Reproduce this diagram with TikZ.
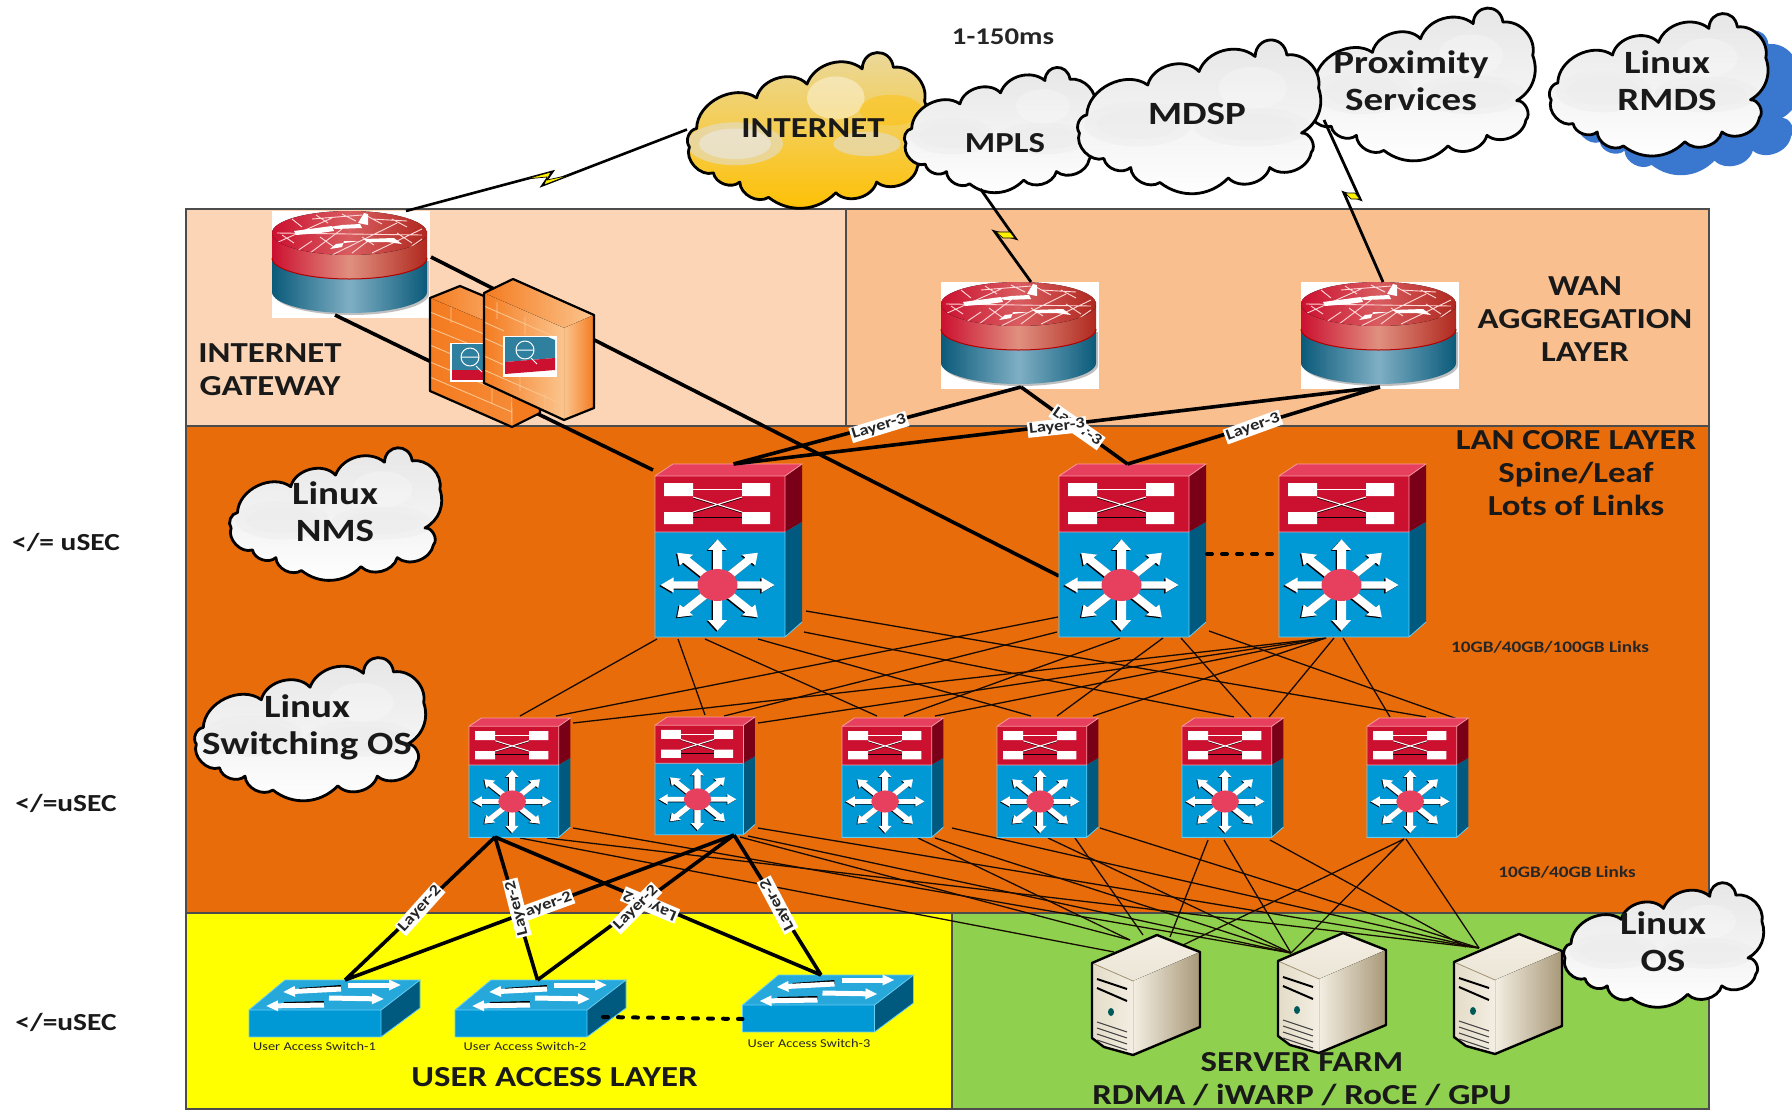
\documentclass[tikz,border=0pt]{standalone}
\usepackage{fontspec}
\setmainfont[FakeStretch=1.2]{Carlito}
\usetikzlibrary{arrows.meta,calc}
\definecolor{peachL}{HTML}{FBD5B5}
\definecolor{peachR}{HTML}{F9BF8F}
\definecolor{lanO}{HTML}{E96C0B}
\definecolor{usrY}{HTML}{FFFF00}
\definecolor{srvG}{HTML}{8FD14F}
\definecolor{swTop}{HTML}{E6405E}
\definecolor{swRed}{HTML}{CC1030}
\definecolor{swRedS}{HTML}{7A0018}
\definecolor{swBlue}{HTML}{0098D5}
\definecolor{swBlueS}{HTML}{005A80}
\definecolor{cylMid}{HTML}{7FAFC4}
\definecolor{cylDark}{HTML}{0A5A7A}
\definecolor{redMid}{HTML}{E09080}
\definecolor{redDark}{HTML}{B0281E}
\definecolor{shadowB}{HTML}{3A78CF}
\definecolor{goldA}{HTML}{EAD9A0}
\definecolor{goldB}{HTML}{F3D070}
\definecolor{goldC}{HTML}{FFC000}
\definecolor{srvL}{HTML}{F3EEE2}
\definecolor{srvM}{HTML}{E4DCC8}
\definecolor{srvD}{HTML}{A89878}
\definecolor{fwD}{HTML}{F47B20}
\definecolor{fwL}{HTML}{FBC58E}
\definecolor{fwB}{HTML}{2F7F9F}
\tikzset{
  frame/.style={inner sep=0pt,outer sep=0pt,rectangle},
  panel/.style={draw=black!70,line width=1.2pt},
  thinlink/.style={draw=black!90!lanO,line width=1.3pt},
  thicklink/.style={draw=black,line width=3.6pt},
  lbl/.style={fill=white,inner sep=1.5pt,font=\fontsize{15.5}{15.5}\selectfont\bfseries,text=black!85},
  ttl/.style={align=center,font=\fontsize{29}{33}\selectfont\bfseries,text=black!90},
  cloudtxt/.style={align=center,font=\fontsize{29}{37}\selectfont\bfseries,text=black!90},
  cloudbig/.style={align=center,font=\fontsize{32.5}{37}\selectfont\bfseries,text=black!90},
  small/.style={font=\fontsize{12}{12}\selectfont,text=black!85},
  links/.style={font=\fontsize{16}{16}\selectfont\bfseries,text=black!85},
  usec/.style={font=\fontsize{24.5}{24.5}\selectfont\bfseries,text=black!90},
}
\newcommand\devframe[5]{\node[frame,minimum width={(#4-#2)*1pt},minimum height={(#5-#3)*1pt}] (#1) at ({(#2+#4)/2},{(#3+#5)/2}) {};}
\newcommand\lk[7][thinlink]{\draw[#1] ([xshift=#3,yshift=#4]#2) -- ([xshift=#6,yshift=#7]#5);}
% cloud outline, in unit coordinates
\def\cloudpath{(.04,.50) to[bend left=62] (.29,.30) to[bend left=62] (.50,.21) to[bend left=55] (.73,.11)
 to[bend left=85,looseness=1.7] (.86,.10) to[bend left=55] (.99,.32) to[bend left=40] (.92,.62)
 to[bend left=70] (.96,.75) to[bend left=60] (.79,.85) to[bend left=60] (.62,.92)
 to[bend left=42] (.34,.95) to[bend left=60] (.22,.85) to[bend left=60] (.11,.79)
 to[bend left=65] (.01,.62) to[bend left=60] (.04,.50) -- cycle}
\newcommand\graycloud[5]{\devframe{#1}{#2}{#3}{#4}{#5}
 \pgfmathsetmacro\cw{#4-#2}\pgfmathsetmacro\ch{#5-#3}
 \begin{scope}[shift={(#2,#3)},x=\cw pt,y=-\ch pt]
 \fill[top color=black!10,bottom color=white] \cloudpath;
 \begin{scope}\clip \cloudpath;
  \fill[black!7,opacity=.5] (.25,.56) ellipse [x radius=.22,y radius=.15];
  \fill[black!7,opacity=.5] (.25,.56) ellipse [x radius=.17,y radius=.1];
  \fill[black!7,opacity=.5] (.72,.58) ellipse [x radius=.24,y radius=.13];
  \fill[black!7,opacity=.5] (.72,.58) ellipse [x radius=.18,y radius=.09];
  \fill[white,opacity=.25] (.72,.32) ellipse [x radius=.14,y radius=.14];
 \end{scope}
 \draw[black,line width=2.8pt,line join=round] \cloudpath;
 \end{scope}}
\newcommand\goldcloud[5]{\devframe{#1}{#2}{#3}{#4}{#5}
 \pgfmathsetmacro\cw{#4-#2}\pgfmathsetmacro\ch{#5-#3}
 \begin{scope}[shift={(#2,#3)},x=\cw pt,y=-\ch pt]
 \fill[top color=goldA,middle color=goldB,bottom color=goldC] \cloudpath;
 \begin{scope}\clip \cloudpath;
  \fill[black!12,opacity=.55] (.2,.6) ellipse [x radius=.2,y radius=.14];
  \fill[black!8,opacity=.55] (.2,.6) ellipse [x radius=.15,y radius=.1];
  \fill[black!12,opacity=.55] (.75,.6) ellipse [x radius=.14,y radius=.08];
  \fill[white,opacity=.4] (.62,.3) ellipse [x radius=.12,y radius=.14];
  \fill[goldC,opacity=.45] (.85,.38) ellipse [x radius=.13,y radius=.1];
 \end{scope}
 \draw[black,line width=2.8pt,line join=round] \cloudpath;
 \end{scope}}
% firewall router
\newcommand\routerpic[3]{\devframe{#1}{#2}{#3}{#2+158}{#3+107}
 \begin{scope}[shift={(#2,#3)}]
 \fill[white] (0,0) rectangle (158,107);
 \fill[black!25] (2,50) -- (2,83) arc[start angle=180,end angle=360,x radius=77.5pt,y radius=21pt] -- (157,50) -- cycle;
 \path[left color=cylDark,right color=cylDark,middle color=cylMid] (0,47) -- (0,81) arc[start angle=180,end angle=360,x radius=77.5pt,y radius=21pt] -- (155,47) -- cycle;
 \path[left color=swRed,right color=redDark,middle color=redMid] (0,20) -- (0,47) arc[start angle=180,end angle=360,x radius=77.5pt,y radius=21pt] -- (155,20) -- cycle;
 \draw[red!70!black,line width=1pt] (0,47) arc[start angle=180,end angle=360,x radius=77.5pt,y radius=21pt];
 \begin{scope}
 \clip (77.5,22) ellipse [x radius=77.5pt,y radius=22pt];
 \fill[left color=swRed,right color=redDark,middle color=redMid!60!swRed] (0,0) rectangle (155,44);
 \draw[white!85!red,line width=.9pt]
  (4,32) -- (60,7) (38,42) -- (70,18) (60,44) -- (125,12) (100,42) -- (150,18)
  (22,42) -- (40,30) (80,42) -- (96,30) (130,42) -- (150,28) (40,8) -- (90,4) (100,8) -- (135,10)
  (20,8) -- (30,16) (44,4) -- (56,12) (70,3) -- (84,10) (95,5) -- (110,13) (120,8) -- (135,16)
  (10,24) -- (22,32) (48,26) -- (62,36) (90,26) -- (102,34) (125,22) -- (140,32) (5,22) -- (150,24);
 \fill[white] (22,20) -- (60,15) -- (62,20) -- (48,22) -- (24,24) -- cycle;
 \fill[white] (58,16) -- (64,18) -- (90,17) -- (88,13) -- (70,14) -- cycle;
 \fill[white] (86,12) -- (92,2) -- (96,3) -- (96,14) -- cycle;
 \fill[white] (88,30) -- (64,33) -- (58,38) -- (70,36) -- (72,30) -- cycle;
 \fill[white] (92,28) -- (122,27) -- (130,33) -- (115,31) -- (95,31) -- cycle;
 \end{scope}
 \end{scope}}
% stacked multilayer switch; #4 is its scale
\newcommand\starray{\foreach \a in {0,45,...,315}{
   \fill[rotate=\a] (15,-4.5) -- (44,-4.5) -- (44,-9.5) -- (57,0) -- (44,9.5) -- (44,4.5) -- (15,4.5) -- cycle;}}
\newcommand\stackpic[4]{\devframe{#1}{#2}{#3}{#2+147*#4}{#3+173*#4}
 \begin{scope}[shift={(#2,#3)},scale=#4]
 \fill[swTop] (0,12) -- (18,0) -- (147,0) -- (130,12) -- cycle;
 \fill[swRedS] (130,12) -- (147,0) -- (147,58) -- (130,68) -- cycle;
 \fill[swBlueS] (130,68) -- (147,58) -- (147,158) -- (130,173) -- cycle;
 \fill[swRed] (0,12) rectangle (130,68);
 \fill[swBlue] (0,68) rectangle (130,173);
 \draw[pink!70!swTop,line width=.8pt] (0,68) -- (0,12) -- (18,0) -- (147,0) -- (130,12) -- (0,12) (130,12) -- (130,68) (0,68) -- (130,68);
 \draw[cyan!60,line width=.8pt] (0,68) -- (0,173) -- (130,173) -- (147,158) (130,173) -- (130,68);
 % crossbar icon
 \fill[white] (9,19) rectangle (38,32) (87,19) rectangle (115,32) (9,48) rectangle (38,60) (87,48) rectangle (115,60);
 \draw[white,line width=.9pt] (38,25) -- (87,25);
 \draw[black,line width=.9pt] (38,53) -- (87,53);
 \draw[black,line width=.7pt] (38,34) -- (87,49) (38,49) -- (87,34);
 \draw[white,line width=1pt] (38,33) -- (87,48) (38,48) -- (87,33);
 % star icon
 \begin{scope}[shift={(62.5,121)},yscale=.8]
  \begin{scope}[xshift=-1.3pt,yshift=-1.3pt,black]\starray\end{scope}
  \begin{scope}[white]\starray\end{scope}
 \end{scope}
 \fill[swTop] (62.5,121) ellipse [x radius=20pt,y radius=16pt];
 \end{scope}}
% access switch
\newcommand\accesspic[3]{\devframe{#1}{#2}{#3}{#2+171}{#3+57}
 \begin{scope}[shift={(#2,#3)}]
 \fill[swBlue!85!white] (0,30) -- (36,0) -- (171,0) -- (132,30) -- cycle;
 \fill[swBlueS] (132,30) -- (171,0) -- (171,28) -- (132,57) -- cycle;
 \fill[swBlue] (0,30) rectangle (132,57);
 \draw[cyan!60,line width=.8pt] (0,57) -- (0,30) -- (36,0) -- (171,0) -- (132,30) -- (0,30) (132,30) -- (132,57) -- (0,57) (132,57) -- (171,28) -- (171,0);
 \draw[black,line width=4pt] (92,7) -- (50,10);
 \draw[black,line width=4pt] (75,23) -- (35,24);
 \draw[white,line width=5pt,-{Triangle[width=10pt,length=12pt]}] (92,9) -- (34,12);
 \draw[white,line width=5pt,-{Triangle[width=10pt,length=12pt]}] (99,5) -- (152,5);
 \draw[white,line width=5pt,-{Triangle[width=10pt,length=12pt]}] (75,25) -- (17,26);
 \draw[white,line width=5pt,-{Triangle[width=10pt,length=12pt]}] (80,18) -- (135,19);
 \end{scope}}
% server
\newcommand\serverpic[3]{\devframe{#1}{#2}{#3}{#2+108}{#3+120}
 \begin{scope}[shift={(#2,#3)}]
 \fill[top color=srvL,bottom color=srvL!90!srvD] (0,28) -- (65,0) -- (108,17) -- (41,46) -- cycle;
 \fill[left color=srvL,right color=srvD] (41,46) -- (108,17) -- (108,92) -- (41,120) -- cycle;
 \fill[left color=srvM,right color=srvL] (0,28) -- (41,46) -- (41,120) -- (12,112) -- (0,103) -- cycle;
 \draw[srvD,line width=.8pt] (0,28) -- (41,46);
 \draw[black,line width=2.4pt,line join=round] (0,28) -- (65,0) -- (108,17) -- (108,92) -- (41,120) -- (12,112) -- (0,103) -- cycle;
 \draw[black,line width=2pt] (5,44) -- (35,54);
 \draw[black,line width=2pt] (5,53) -- (35,66);
 \fill[teal!70!black] (19,77) ellipse [x radius=3pt,y radius=4pt];
 \foreach \d in {89,95,101,107}{\draw[black!75,line width=1pt] (5,\d-2) -- (35,\d+8);}
 \end{scope}}
\begin{document}
\begin{tikzpicture}[x=1pt,y=-1pt]
\useasboundingbox (0,0) rectangle (1792,1109);
\fill[white] (0,0) rectangle (1792,1109);
% panels
\path[panel,fill=peachL] (186,209) rectangle (846,426);
\path[panel,fill=peachR] (846,209) rectangle (1709,426);
\path[panel,fill=lanO] (186,426) rectangle (1709,913);
\path[panel,fill=usrY] (186,913) -- (186,1109) -- (952,1109) -- (952,913) -- cycle;
\path[panel,fill=srvG] (952,913) -- (952,1109) -- (1709,1109) -- (1709,913) -- cycle;
% device frames used by connectors
\devframe{c1}{655}{464}{802}{637}
\devframe{c2}{1059}{464}{1206}{637}
\devframe{c3}{1279}{464}{1426}{637}
\devframe{a1}{469}{718}{572}{837}
\devframe{a2}{655}{717}{755}{835}
\devframe{a3}{842}{718}{943}{837}
\devframe{a4}{997}{718}{1098}{837}
\devframe{a5}{1182}{718}{1283}{839}
\devframe{a6}{1367}{718}{1468}{837}
\devframe{sv1}{1092}{935}{1200}{1055}
\devframe{sv2}{1278}{933}{1384}{1052}
\devframe{sv3}{1454}{933}{1561}{1054}
% core to aggregation
\lk{c1.south}{-71.5}{-2}{a1.north}{-.5}{2}
\lk{c1.south}{-50.5}{-2}{a2.north}{0}{2}
\lk{c1.south}{-23.5}{-2}{a3.north}{-15.5}{2}
\lk{c1.south}{29.5}{-2}{a4.north}{-16.5}{2}
\lk{c1.south}{75.5}{5}{a5.north}{1.5}{1}
\lk{c1.south}{77.5}{26}{a6.north}{8.5}{1}
\lk{c2.south}{-74.5}{20}{a1.north}{35.5}{2}
\lk{c2.south}{-75.5}{5}{a2.north}{19}{1}
\lk{c2.south}{-12.5}{-1}{a3.north}{11.5}{2}
\lk{c2.south}{30.5}{-1}{a4.north}{9.5}{2}
\lk{c2.south}{48.5}{-1}{a5.north}{18.5}{1}
\lk{c2.south}{76.5}{6}{a6.north}{48.5}{-4}
\lk{c3.south}{-26.5}{-1}{a1.north}{52.5}{-5}
\lk{c3.south}{-26.5}{-1}{a2.north}{53}{-6}
\lk{c3.south}{-26.5}{-1}{a3.north}{42.5}{2}
\lk{c3.south}{-26.5}{-1}{a4.north}{45.5}{2}
\lk{c3.south}{-18.5}{-1}{a5.north}{36.5}{1}
\lk{c3.south}{-9.5}{-1}{a6.north}{-27.5}{1}
% aggregation to servers
\lk{a1.south}{-.5}{-1}{sv1.north}{-32}{-17}
\lk{a1.south}{26.5}{-1}{sv3.north}{-28.5}{-15}
\lk{a1.south}{52.5}{9}{sv2.north}{-40}{-20}
\lk{a2.south}{35}{-2}{sv1.north}{-16}{-5}
\lk{a2.south}{43}{-1}{sv2.north}{-40}{-20}
\lk{a2.south}{53}{7}{sv3.north}{-28.5}{-15}
\lk{a3.south}{25.5}{-1}{sv1.north}{-16}{-5}
\lk{a3.south}{42.5}{-1}{sv2.north}{-40}{-20}
\lk{a3.south}{59.5}{9}{sv3.north}{-28.5}{-15}
\lk{a4.south}{.5}{-1}{sv2.north}{-40}{-20}
\lk{a4.south}{27.5}{-1}{sv1.north}{-3}{0}
\lk{a4.south}{52.5}{9}{sv3.north}{-28.5}{-15}
\lk{a5.south}{-24.5}{-1}{sv1.north}{24}{-2}
\lk{a5.south}{-8.5}{-1}{sv2.north}{-40}{-20}
\lk{a5.south}{37.5}{-1}{sv3.north}{-41.5}{-14}
\lk{a6.south}{-13.5}{-2}{sv1.north}{35}{-11}
\lk{a6.south}{-13.5}{-2}{sv2.north}{-40}{-20}
\lk{a6.south}{-11.5}{-2}{sv3.north}{-28.5}{-15}
% clouds
\devframe{rmdsShadow}{1575}{30}{1800}{172}
\begin{scope}[shift={(1575,30)},x=225pt,y=-142pt]
\fill[shadowB] \cloudpath;
\end{scope}
\goldcloud{internet}{687}{52}{927}{205}
\graycloud{mpls}{904}{67}{1097}{190}
\graycloud{prox}{1306}{7}{1535}{158}
\graycloud{mdsp}{1077}{40}{1321}{190}
\graycloud{rmds}{1549}{13}{1768}{153}
\graycloud{nms}{229}{448}{442}{577}
\graycloud{swos}{194}{658}{426}{797}
\graycloud{losc}{1563}{883}{1764}{1004}
% routers
\routerpic{r1}{272}{211}
\routerpic{r2}{941}{282}
\routerpic{r3}{1301}{282}
% WAN lightning links
\draw[black,line width=2.6pt,line join=miter] ([xshift=55]r1.north) -- (552,172) -- (543,185) -- ([yshift=-1]internet.west);
\fill[yellow,draw=black,line width=.7pt] (526,179) -- (551,172) -- (547,180) -- (570,175) -- (544,185) -- (547,177) -- cycle;
\draw[black,line width=2.8pt,line join=miter] ([xshift=-20,yshift=1]mpls.south) -- (1015,238) -- (995,232) -- ([xshift=11]r2.north);
\fill[yellow,draw=black,line width=.7pt] (996,232) -- (1010,232) -- (1015,238) -- (1003,238) -- cycle;
\draw[black,line width=2.8pt,line join=miter] ([xshift=-96.5,yshift=38]prox.south) -- (1360,199) -- (1344,193) -- ([xshift=3]r3.north);
\fill[yellow,draw=black,line width=.7pt] (1345,193) -- (1355,193) -- (1360,199) -- (1351,199) -- cycle;
% thick links behind the firewalls
\coordinate (r1b) at ([xshift=-16,yshift=3]r1.south);
\draw[thicklink] ([xshift=1,yshift=7.5]r1.east) -- ([yshift=-25.5]c2.west);
\draw[thicklink] (r1b) -- ([xshift=-2,yshift=-6]c1.north west);
% firewalls
\devframe{fw1}{430}{286}{541}{427}
\devframe{fw2}{484}{279}{594}{420}
\begin{scope}[line join=round]
\fill[left color=fwD,right color=fwL] (430,298) -- (460,286) -- (541,320) -- (511,332) -- cycle;
\fill[fwD] (511,332) -- (541,320) -- (540,413) -- (512,427) -- cycle;
\fill[left color=fwD,right color=fwD!80!fwL] (430,298) -- (511,332) -- (512,427) -- (430,391) -- cycle;
\draw[fwL,line width=.9pt] (430,312) -- (484,334) (430,328) -- (484,350) (430,345) -- (484,368) (430,362) -- (512,396) (430,377) -- (512,412) (451,307) -- (451,323) (472,350) -- (472,368) (492,388) -- (492,404) (511,332) -- (512,427);
\draw[black,line width=2.2pt] (430,298) -- (460,286) -- (541,320) -- (540,413) -- (512,427) -- (430,391) -- cycle;
\fill[white] (450,343) rectangle (500,382);
\fill[fwB] (452,344) -- (500,344) -- (500,370) -- (452,370) -- cycle;
\fill[swRed] (452,370) rectangle (500,380);
\draw[white,line width=1pt] (470,357) circle (9pt);
\draw[white,line width=1pt] (461,357) -- (479,357) (476,366) -- (482,372);
\fill[left color=fwD,right color=fwL] (484,293) -- (513,279) -- (594,315) -- (564,328) -- cycle;
\fill[left color=fwL,right color=fwD] (564,328) -- (594,315) -- (594,408) -- (564,420) -- cycle;
\fill[left color=fwD,right color=fwL] (484,293) -- (564,328) -- (564,420) -- (484,383) -- cycle;
\draw[fwL,line width=.9pt] (484,306) -- (564,341) (484,322) -- (504,331) (484,338) -- (504,347) (484,356) -- (504,365) (484,370) -- (564,405) (497,302) -- (497,319) (525,317) -- (525,335) (545,393) -- (545,412) (520,375) -- (520,391) (564,328) -- (564,420);
\draw[black,line width=2.2pt] (484,293) -- (513,279) -- (594,315) -- (594,408) -- (564,420) -- (484,383) -- cycle;
\fill[white] (503,336) rectangle (557,377);
\fill[fwB] (505,337) -- (548,337) -- (555,340) -- (555,358) -- (505,362) -- cycle;
\fill[swRed] (505,362) -- (555,358) -- (555,370) -- (505,374) -- cycle;
\draw[white,line width=1pt] (525,350) circle (9pt);
\draw[white,line width=1pt] (516,350) -- (534,350) (531,358) -- (537,364);
\end{scope}
% switches
\stackpic{c1i}{655}{464}{1}
\stackpic{c2i}{1059}{464}{1}
\stackpic{c3i}{1279}{464}{1}
\stackpic{a1i}{469}{718}{.69}
\stackpic{a2i}{655}{717}{.68}
\stackpic{a3i}{842}{718}{.69}
\stackpic{a4i}{997}{718}{.69}
\stackpic{a5i}{1182}{718}{.69}
\stackpic{a6i}{1367}{718}{.69}
\accesspic{s1}{249}{980}
\accesspic{s2}{455}{980}
\accesspic{s3}{742.5}{975}
\serverpic{sv1i}{1092}{935}
\serverpic{sv2i}{1278}{933}
\serverpic{sv3i}{1454}{934}
% thick links
\coordinate (r2b) at ([xshift=1,yshift=2]r2.south);
\coordinate (r3b) at ([yshift=2]r3.south);
\coordinate (c1t) at ([xshift=5]c1.north);
\coordinate (c2t) at ([xshift=-5]c2.north);
\draw[thicklink,line join=round] (c1t) -- (r2b) (c2t) -- (r2b) (c1t) -- (r3b) (c2t) -- (r3b);
\coordinate (a1b) at ([xshift=-25.5]a1.south);
\coordinate (a2b) at ([xshift=29]a2.south);
\coordinate (s1t) at ([xshift=10.5]s1.north);
\coordinate (s2t) at ([xshift=-3]s2.north);
\coordinate (s3t) at ([xshift=-7]s3.north);
\draw[thicklink] (a1b) -- (s1t) (a1b) -- (s2t) (a1b) -- (s3t) (a2b) -- (s1t) (a2b) -- (s2t) (a2b) -- (s3t);
\draw[black,line width=4pt,dash pattern=on 5pt off 10pt,line cap=round] ([xshift=-23,yshift=-8.5]s2.east) -- ([yshift=-15.5]s3.west);
\draw[black,line width=4pt,dash pattern=on 5pt off 10pt,line cap=round] ([xshift=1,yshift=-3.5]c2.east) -- ([yshift=-3.5]c3.west);
% labels on links
\node[lbl,rotate=-35] (l3b) at (1077,427) {Layer-3};
\node[lbl,rotate=17] (l3a) at (879,427) {Layer-3};
\node[lbl,rotate=6] (l3c) at (1057,427) {Layer-3};
\node[lbl,rotate=20] (l3d) at (1253,427) {Layer-3};
\node[lbl,rotate=20] (l2c) at (545,906) {Layer-2};
\node[lbl,rotate=48] (l2a) at (420,909) {Layer-2};
\node[lbl,rotate=104] (l2b) at (517,908) {Layer-2};
\node[lbl,rotate=157] (l2e) at (650,905) {Layer-2};
\node[lbl,rotate=45] (l2d) at (636,908) {Layer-2};
\node[lbl,rotate=118] (l2f) at (777.5,905) {Layer-2};
% texts
\node[cloudtxt] (tInternet) at (813,128) {INTERNET};
\node[cloudtxt] (tMpls) at (1005,143) {MPLS};
\node[cloudbig] (tMdsp) at (1197,114) {MDSP};
\node[cloudbig] (tProx) at (1411,81) {Proximity\\Services};
\node[cloudbig] (tRmds) at (1667,81) {Linux\\RMDS};
\node[cloudbig] (tNms) at (335,512) {Linux\\NMS};
\node[cloudbig] (tSwos) at (307,727) {Linux\\Switching OS};
\node[cloudbig] (tLos) at (1663,942) {Linux\\OS};
\node[font=\fontsize{24}{24}\selectfont\bfseries,text=black!85] (tMs) at (1003,37) {1-150ms};
\node[ttl] (tGw) at (270,370) {INTERNET\\GATEWAY};
\node[ttl] (tWan) at (1585,319) {WAN\\AGGREGATION\\LAYER};
\node[ttl] (tLan) at (1576,473) {LAN CORE LAYER\\Spine/Leaf\\Lots of Links};
\node[links] (tL1) at (1550,647) {10GB/40GB/100GB Links};
\node[links] (tL2) at (1567,872) {10GB/40GB Links};
\node[small] (tS1) at (314.5,1046) {User Access Switch-1};
\node[small] (tS2) at (525,1046) {User Access Switch-2};
\node[small] (tS3) at (809,1043) {User Access Switch-3};
\node[ttl] (tUser) at (554.5,1077) {USER ACCESS LAYER};
\node[ttl] (tSrv) at (1302,1079) {SERVER FARM\\RDMA / iWARP / RoCE / GPU};
\node[usec] (u1) at (66,542) {</= uSEC};
\node[usec] (u2) at (66,803) {</=uSEC};
\node[usec] (u3) at (66,1022) {</=uSEC};
\end{tikzpicture}
\end{document}
